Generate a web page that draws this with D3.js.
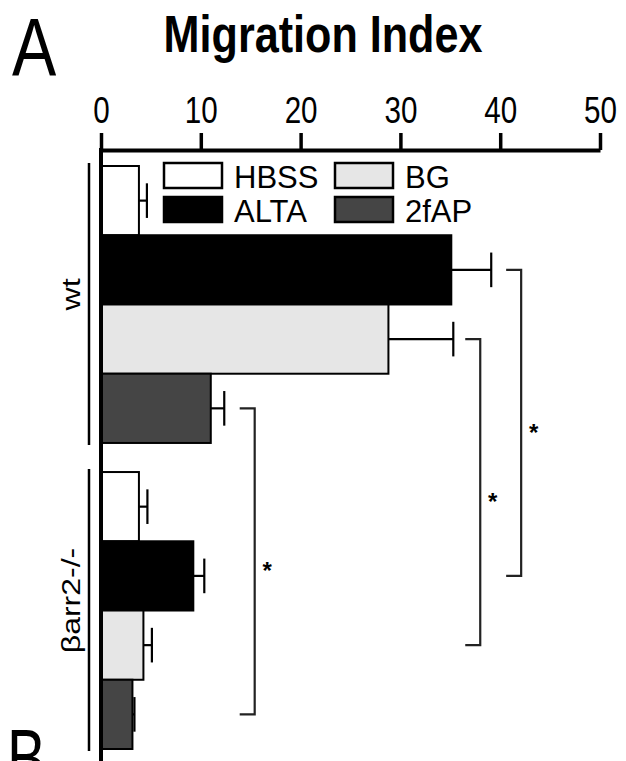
<!DOCTYPE html>
<html>
<head>
<meta charset="utf-8">
<script src="https://cdn.jsdelivr.net/npm/d3@7"></script>
<style>
  html, body { margin: 0; padding: 0; background: #fff; }
  svg { display: block; font-family: "Liberation Sans", Arial, sans-serif; }
</style>
</head>
<body>
<svg id="chart" width="626" height="761"></svg>
<script>
// ── Data ─────────────────────────────────────────────────────────────────
const groups = ['wt', 'βarr2-/-'];
const series = ['HBSS', 'ALTA', 'BG', '2fAP'];
const seriesColors = ['#ffffff', '#000000', '#e6e6e6', '#454545'];
const wtMeans = [3.8, 35.1, 28.8, 11.0];
const wtErrors = [0.8, 4.0, 6.5, 1.35];
const koMeans = [3.8, 9.25, 4.25, 3.15];
const koErrors = [0.85, 1.1, 0.85, 0.2];
const xTicks = [0, 10, 20, 30, 40, 50];

// significance brackets: which series is compared wt vs βarr2-/-, and where
const sigSeries = ['ALTA', 'BG', '2fAP'];
const sigX = [42.1, 38.0, 15.4];
const sigLabels = ['*', '*', '*'];

// ── Setup ────────────────────────────────────────────────────────────────
const svg = d3.select('#chart');
const axisY = 150;

const x = d3.scaleLinear().domain([0, 50]).range([101, 600]);
const y0 = d3.scaleBand().domain(groups).range([166, 749]).paddingInner(0.095);
const y1 = d3.scaleBand().domain(series).range([0, y0.bandwidth()]);
const color = d3.scaleOrdinal().domain(series).range(seriesColors);

const rows = [];
groups.forEach((g, gi) => {
  const means = gi === 0 ? wtMeans : koMeans;
  const errs = gi === 0 ? wtErrors : koErrors;
  series.forEach((s, si) => rows.push({ group: g, series: s, mean: means[si], err: errs[si] }));
});
const barY = d => y0(d.group) + y1(d.series);
const barMid = (g, s) => y0(g) + y1(s) + y1.bandwidth() / 2;

// ── Titles ───────────────────────────────────────────────────────────────
svg.append('text')
  .attr('transform', 'translate(12,75) scale(0.82,1)')
  .attr('font-size', 81)
  .text('A');

svg.append('text')
  .attr('transform', 'translate(323,52) scale(0.83,1)')
  .attr('text-anchor', 'middle')
  .attr('font-size', 52)
  .attr('font-weight', 'bold')
  .text('Migration Index');

// next panel label, cut off at the bottom as in the source figure
svg.append('text')
  .attr('transform', 'translate(7,786) scale(0.72,1)')
  .attr('font-size', 81)
  .text('B');

// ── Bars ─────────────────────────────────────────────────────────────────
svg.append('g')
  .selectAll('rect')
  .data(rows)
  .join('rect')
  .attr('x', x(0))
  .attr('y', barY)
  .attr('width', d => x(d.mean) - x(0))
  .attr('height', y1.bandwidth())
  .attr('fill', d => color(d.series))
  .attr('stroke', '#000')
  .attr('stroke-width', 2);

// error bars
const eb = svg.append('g').attr('stroke', '#000').attr('stroke-width', 2.2).attr('fill', 'none');
eb.selectAll('line.stem')
  .data(rows)
  .join('line')
  .attr('class', 'stem')
  .attr('x1', d => x(d.mean))
  .attr('x2', d => x(d.mean + d.err))
  .attr('y1', d => barMid(d.group, d.series))
  .attr('y2', d => barMid(d.group, d.series));
eb.selectAll('line.cap')
  .data(rows)
  .join('line')
  .attr('class', 'cap')
  .attr('x1', d => x(d.mean + d.err))
  .attr('x2', d => x(d.mean + d.err))
  .attr('y1', d => barMid(d.group, d.series) - y1.bandwidth() / 4)
  .attr('y2', d => barMid(d.group, d.series) + y1.bandwidth() / 4);

// ── Axes ─────────────────────────────────────────────────────────────────
const xAxis = svg.append('g')
  .attr('transform', `translate(0,${axisY})`)
  .call(d3.axisTop(x).tickValues(xTicks).tickSize(17).tickSizeOuter(0).tickPadding(10));
xAxis.select('.domain').attr('stroke-width', 4).attr('stroke', '#000');
xAxis.selectAll('.tick line').attr('stroke-width', 3.5).attr('stroke', '#000');
xAxis.selectAll('.tick text')
  .attr('font-family', '"Liberation Sans", Arial, sans-serif')
  .attr('font-size', 37)
  .attr('fill', '#000')
  .attr('transform', 'scale(0.8,1)');

// vertical baseline
svg.append('line')
  .attr('x1', x(0)).attr('x2', x(0))
  .attr('y1', axisY - 2).attr('y2', 770)
  .attr('stroke', '#000').attr('stroke-width', 4);

// group brackets and labels
svg.append('g')
  .selectAll('line')
  .data(groups)
  .join('line')
  .attr('x1', 89).attr('x2', 89)
  .attr('y1', d => y0(d) - 3)
  .attr('y2', d => y0(d) + y0.bandwidth() + 2)
  .attr('stroke', '#000')
  .attr('stroke-width', 2.5);

svg.append('g')
  .selectAll('text')
  .data(groups)
  .join('text')
  .attr('transform', d => `translate(80,${y0(d) + y0.bandwidth() / 2 - 10}) rotate(-90) scale(1,0.8)`)
  .attr('text-anchor', 'middle')
  .attr('font-size', 32)
  .text(d => d);

// ── Legend ───────────────────────────────────────────────────────────────
const legend = svg.append('g')
  .selectAll('g')
  .data(series)
  .join('g')
  .attr('transform', (d, i) => `translate(${164 + Math.floor(i / 2) * 171},${163 + (i % 2) * 34})`);
legend.append('rect')
  .attr('width', 58).attr('height', 25)
  .attr('fill', d => color(d))
  .attr('stroke', '#000').attr('stroke-width', 2.5);
legend.append('text')
  .attr('x', 70).attr('y', 25)
  .attr('font-size', 31)
  .text(d => d);

// ── Significance brackets ────────────────────────────────────────────────
const sig = svg.append('g')
  .selectAll('g')
  .data(sigSeries.map((s, i) => ({ series: s, x: sigX[i], label: sigLabels[i] })))
  .join('g');
sig.append('path')
  .attr('fill', 'none')
  .attr('stroke', '#222')
  .attr('stroke-width', 2.2)
  .attr('d', d => {
    const xv = x(d.x), ya = barMid(groups[0], d.series), yb = barMid(groups[1], d.series);
    return `M${xv - 15},${ya}H${xv}V${yb}H${xv - 15}`;
  });
sig.append('text')
  .attr('x', d => x(d.x) + 12.5)
  .attr('y', d => (barMid(groups[0], d.series) + barMid(groups[1], d.series)) / 2 + 18)
  .attr('text-anchor', 'middle')
  .attr('font-size', 24)
  .attr('font-weight', 'bold')
  .text(d => d.label);
</script>
</body>
</html>
